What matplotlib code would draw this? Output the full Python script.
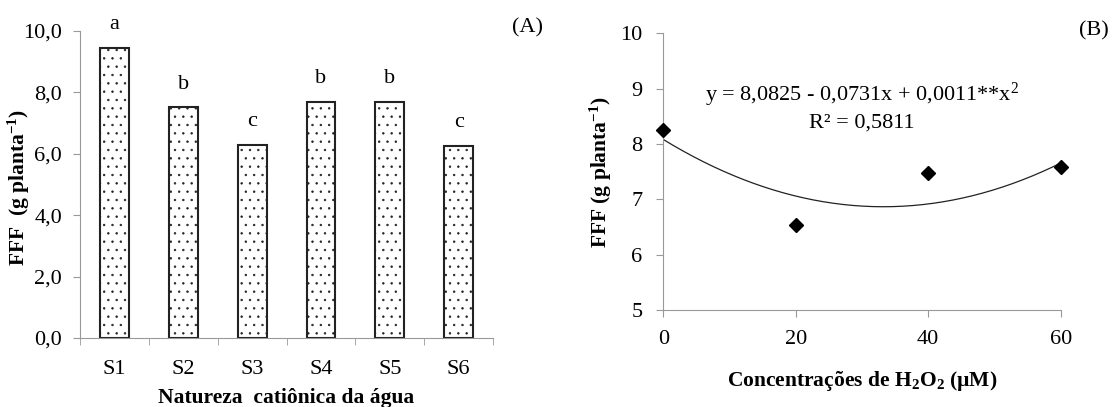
import numpy as np
import matplotlib
matplotlib.use('Agg')
import matplotlib.pyplot as plt

plt.rcParams['font.family'] = 'Liberation Serif'
plt.rcParams['mathtext.fontset'] = 'custom'
plt.rcParams['mathtext.rm'] = 'Liberation Serif'
plt.rcParams['mathtext.it'] = 'Liberation Serif:italic'
plt.rcParams['mathtext.bf'] = 'Liberation Serif:bold'
plt.rcParams['hatch.linewidth'] = 0.5

# panel A data
treatments = ['S1', 'S2', 'S3', 'S4', 'S5', 'S6']
fff_means = [9.45, 7.51, 6.30, 7.70, 7.70, 6.26]
letters = ['a', 'b', 'c', 'b', 'b', 'c']

# panel B data
h2o2_conc = [0, 20, 40, 60]
fff_h2o2 = [8.26, 6.53, 7.48, 7.59]
# fitted equation shown on the chart: y = b0 + b1*x + b2*x^2
coef_b0, coef_b1, coef_b2 = 8.0825, -0.0731, 0.0011

fig = plt.figure(figsize=(11.13, 4.07), dpi=100)
axA = fig.add_axes([0.0719, 0.1695, 0.3711, 0.7545])
axB = fig.add_axes([0.596, 0.238, 0.357, 0.680])

spine_col = '#999999'
fs = 16
fl = 15.5

# ---- panel A ----
x = np.arange(len(treatments))
axA.bar(x, fff_means, width=0.42, color='white', edgecolor='#222222',
        linewidth=1.5, hatch='..')
for xi, v, l in zip(x, fff_means, letters):
    axA.text(xi, v + 0.45, l, ha='center', va='bottom', fontsize=fs)
axA.set_xlim(-0.5, len(treatments) - 0.5)
axA.set_ylim(0, 10)
axA.set_yticks(np.arange(0, 10.1, 2))
axA.set_yticklabels([f'{v:.1f}'.replace('.', ',') for v in np.arange(0, 10.1, 2)])
axA.set_xticks(x)
axA.set_xticklabels(treatments)
axA.set_xticks(np.arange(-0.5, len(treatments)), minor=True)
axA.tick_params(axis='x', which='major', length=0, pad=16, labelsize=fs)
axA.tick_params(axis='x', which='minor', length=5, color=spine_col, direction='out')
axA.tick_params(axis='y', length=5, color=spine_col, labelsize=fs, pad=8)
for s in ['top', 'right']:
    axA.spines[s].set_visible(False)
for s in ['left', 'bottom']:
    axA.spines[s].set_color(spine_col)
axA.set_xlabel('Natureza  catiônica da água', fontsize=fl, fontweight='bold', labelpad=6)
axA.set_ylabel(r'FFF  (g planta$^{\mathbf{-1}}$)', fontsize=fl, fontweight='bold')
axA.yaxis.set_label_coords(-0.116, 0.49)
axA.text(1.12, 1.01, '(A)', transform=axA.transAxes, ha='right', va='center', fontsize=fs)

# ---- panel B ----
xs = np.linspace(0, 60, 200)
axB.plot(xs, coef_b0 + coef_b1 * xs + coef_b2 * xs ** 2, color='#222222', linewidth=0.9)
axB.plot(h2o2_conc, fff_h2o2, linestyle='none', marker='D', markersize=7,
         color='black', clip_on=False, zorder=3)
axB.set_xlim(0, 60)
axB.set_ylim(5, 10)
axB.set_xticks(h2o2_conc)
axB.set_yticks(range(5, 11))
axB.tick_params(axis='x', length=5, color=spine_col, labelsize=fs, pad=9)
axB.tick_params(axis='y', length=5, color=spine_col, labelsize=fs, pad=10)
for s in ['top', 'right']:
    axB.spines[s].set_visible(False)
for s in ['left', 'bottom']:
    axB.spines[s].set_color(spine_col)
axB.set_xlabel(r'Concentrações de H$_{\mathbf{2}}$O$_{\mathbf{2}}$ (µM)', fontsize=fl,
               fontweight='bold', labelpad=15)
axB.set_ylabel(r'FFF (g planta$^{\mathbf{-1}}$)', fontsize=fl, fontweight='bold')
axB.yaxis.set_label_coords(-0.123, 0.5)
axB.text(0.50, 0.776, r'y = 8,0825 - 0,0731x + 0,0011**x$^{2}$', transform=axB.transAxes,
         ha='center', va='center', fontsize=fs)
axB.text(0.50, 0.675, 'R² = 0,5811', transform=axB.transAxes,
         ha='center', va='center', fontsize=fs)
axB.text(1.122, 1.01, '(B)', transform=axB.transAxes, ha='right', va='center', fontsize=fs)

fig.savefig('out.png', dpi=100)
